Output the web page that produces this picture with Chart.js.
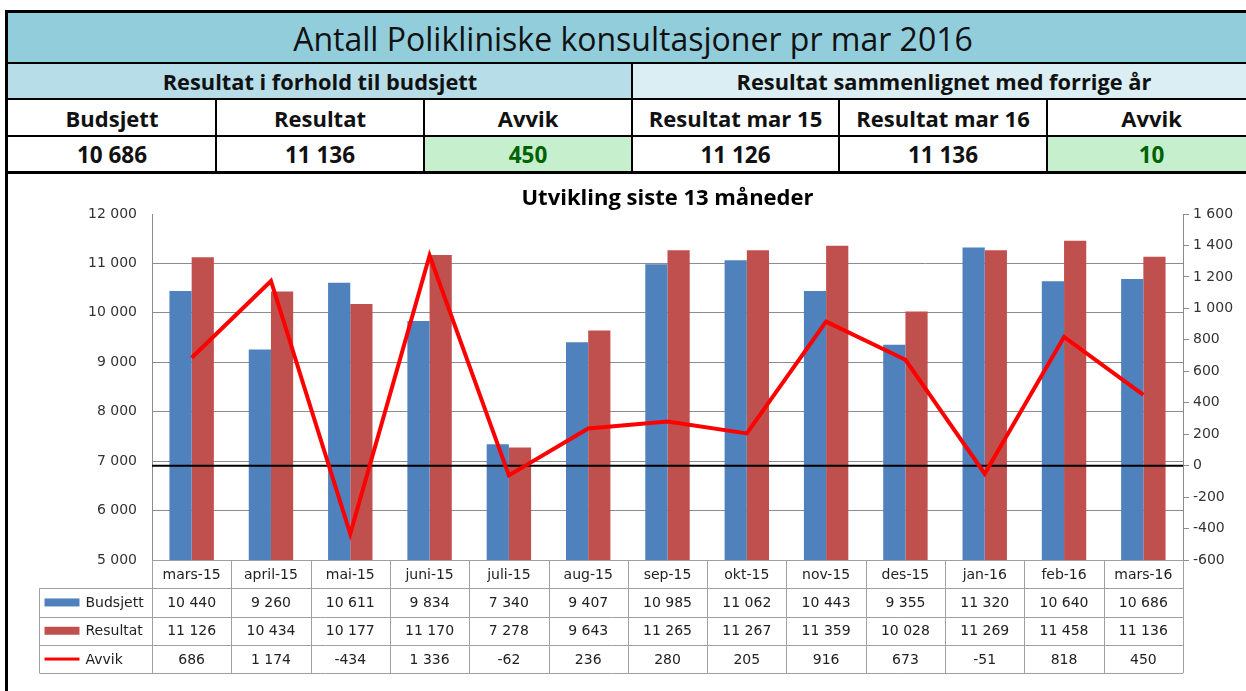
<!DOCTYPE html>
<html>
<head>
<meta charset="utf-8">
<script src="https://cdn.jsdelivr.net/npm/chart.js@4.4.0/dist/chart.umd.min.js"></script>
<style>
  body { margin: 0; width: 1246px; height: 691px; overflow: hidden; background: #fff; font-family: "Open Sans", sans-serif; }
  .c { position: absolute; box-sizing: border-box; display: flex; align-items: center; justify-content: center; color: #111; white-space: nowrap; }
  .ln { position: absolute; background: #000; }
  #wrap { position: absolute; left: 8px; top: 174px; width: 1238px; height: 517px; }
</style>
</head>
<body>
<div id="head"></div>
<div id="wrap"><canvas id="chart" width="1238" height="517"></canvas></div>
<script>
const months = ['mars-15', 'april-15', 'mai-15', 'juni-15', 'juli-15', 'aug-15', 'sep-15', 'okt-15', 'nov-15', 'des-15', 'jan-16', 'feb-16', 'mars-16'];
const budsjett = [10440, 9260, 10611, 9834, 7340, 9407, 10985, 11062, 10443, 9355, 11320, 10640, 10686];
const resultat = [11126, 10434, 10177, 11170, 7278, 9643, 11265, 11267, 11359, 10028, 11269, 11458, 11136];
const avvik = [686, 1174, -434, 1336, -62, 236, 280, 205, 916, 673, -51, 818, 450];

const fmt = v => String(v).replace(/\B(?=(\d{3})+(?!\d))/g, ' ');

// header table
const last = months.length - 1;
const head = document.getElementById('head');
function cell(x, y, w, h, txt, css) {
  const d = document.createElement('div');
  d.className = 'c';
  d.style.cssText = `left:${x}px;top:${y}px;width:${w}px;height:${h}px;` + (css || '');
  d.textContent = txt;
  head.appendChild(d);
}
function line(x, y, w, h) {
  const d = document.createElement('div');
  d.className = 'ln';
  d.style.cssText = `left:${x}px;top:${y}px;width:${w}px;height:${h}px;`;
  head.appendChild(d);
}
const cols = [8, 216, 424, 632, 839, 1047, 1256];
cell(8, 13, 1250, 50, 'Antall Polikliniske konsultasjoner pr mar 2016', 'background:#92CDDC;font-size:32px;');
cell(8, 63, 624, 36, 'Resultat i forhold til budsjett', 'background:#B7DEE8;font-size:21.8px;font-weight:bold;');
cell(632, 63, 624, 36, 'Resultat sammenlignet med forrige år', 'background:#DAEEF3;font-size:21.8px;font-weight:bold;');
const hdr = ['Budsjett', 'Resultat', 'Avvik', 'Resultat mar 15', 'Resultat mar 16', 'Avvik'];
const vals = [budsjett[last], resultat[last], resultat[last] - budsjett[last], resultat[0], resultat[last], resultat[last] - resultat[0]];
hdr.forEach((t, i) => {
  cell(cols[i], 99, cols[i + 1] - cols[i], 37, t, 'font-size:22px;font-weight:bold;');
  const green = (i === 2 || i === 5);
  cell(cols[i], 136, cols[i + 1] - cols[i], 36, fmt(vals[i]),
    'font-size:22.5px;font-weight:bold;' + (green ? 'background:#C6EFCE;color:#006100;' : ''));
});
line(5, 10, 1250, 3);
line(5, 10, 3, 700);
line(5, 62, 1250, 2);
line(5, 98, 1250, 2);
line(5, 135, 1250, 2);
line(5, 171, 1250, 3);
line(631, 62, 2, 110);
[1, 2, 4, 5].forEach(i => line(cols[i] - 1, 98, 2, 74));

// data table under the chart
const tablePlugin = {
  id: 'dataTable',
  beforeDatasetDraw(chart, args) {
    if (args.index !== 2) return;
    const { ctx, chartArea } = chart;
    const y = chart.scales.y1.getPixelForValue(0);
    ctx.save();
    ctx.strokeStyle = '#000';
    ctx.lineWidth = 2;
    ctx.beginPath();
    ctx.moveTo(chartArea.left, y);
    ctx.lineTo(chartArea.right, y);
    ctx.stroke();
    ctx.restore();
  },
  afterDraw(chart) {
    const { ctx, chartArea } = chart;
    const xs = chart.scales.x;
    const w = (chartArea.right - chartArea.left) / months.length;
    const top = chartArea.bottom;
    const rh = 28.3;
    const legLeft = 31.5;
    ctx.save();
    ctx.strokeStyle = '#A0A0A0';
    ctx.lineWidth = 1;
    ctx.beginPath();
    for (let k = 0; k <= 4; k++) {
      const y = Math.round(top + k * rh) + 0.5;
      ctx.moveTo(k === 0 ? chartArea.left : legLeft, y);
      ctx.lineTo(chartArea.right, y);
    }
    for (let i = 0; i <= months.length; i++) {
      const x = Math.round(chartArea.left + i * w) + 0.5;
      ctx.moveTo(x, top);
      ctx.lineTo(x, top + 4 * rh);
    }
    ctx.moveTo(legLeft, top + rh);
    ctx.lineTo(legLeft, top + 4 * rh);
    ctx.stroke();

    ctx.font = '14px "DejaVu Sans"';
    ctx.fillStyle = '#222';
    ctx.textAlign = 'center';
    ctx.textBaseline = 'middle';
    const rows = [months, budsjett.map(fmt), resultat.map(fmt), avvik.map(fmt)];
    rows.forEach((r, k) => {
      r.forEach((t, i) => {
        ctx.fillText(t, xs.getPixelForValue(i), top + k * rh + rh / 2 + 1);
      });
    });
    const names = ['Budsjett', 'Resultat', 'Avvik'];
    const colors = ['#4F81BD', '#C0504D', '#FF0000'];
    ctx.textAlign = 'left';
    names.forEach((n, k) => {
      const cy = top + (k + 1) * rh + rh / 2;
      ctx.fillStyle = colors[k];
      if (k < 2) ctx.fillRect(legLeft + 5, cy - 4, 35, 8);
      else ctx.fillRect(legLeft + 5, cy - 1.5, 35, 3);
      ctx.fillStyle = '#222';
      ctx.fillText(n, legLeft + 46, cy + 1);
    });
    ctx.restore();
  }
};

const tickFont = { family: 'DejaVu Sans', size: 14 };

new Chart(document.getElementById('chart'), {
  type: 'bar',
  data: {
    labels: months,
    datasets: [
      { label: 'Budsjett', data: budsjett, backgroundColor: '#4F81BD', yAxisID: 'y', order: 1 },
      { label: 'Resultat', data: resultat, backgroundColor: '#C0504D', yAxisID: 'y', order: 1 },
      { label: 'Avvik', type: 'line', data: avvik, borderColor: '#FF0000', borderWidth: 4,
        pointRadius: 0, tension: 0, yAxisID: 'y1', order: 0 }
    ]
  },
  plugins: [tablePlugin],
  options: {
    responsive: false,
    animation: false,
    devicePixelRatio: 1,
    datasets: { bar: { categoryPercentage: 0.56, barPercentage: 1 } },
    layout: { padding: 0 },
    plugins: {
      legend: { display: false },
      tooltip: { enabled: false },
      title: {
        display: true,
        fullSize: false,
        text: 'Utvikling siste 13 måneder',
        color: '#000',
        font: { family: 'Open Sans', size: 22, weight: 'bold' },
        padding: { top: 12, bottom: 1.6 }
      }
    },
    scales: {
      x: {
        ticks: { display: false },
        grid: { display: false },
        border: { display: false },
        afterFit: s => { s.height = 131; }
      },
      y: {
        position: 'left',
        min: 5000, max: 12000,
        ticks: { stepSize: 1000, font: tickFont, color: '#333', padding: 15, callback: v => fmt(v) },
        grid: { color: c => c.tick.value === 12000 ? 'rgba(0,0,0,0)' : '#8C8C8C', drawTicks: false },
        border: { display: true, color: '#8C8C8C' },
        afterFit: s => { s.width = 144; }
      },
      y1: {
        position: 'right',
        min: -600, max: 1600,
        ticks: { stepSize: 200, font: tickFont, color: '#333', padding: 4, callback: v => fmt(v) },
        grid: { drawOnChartArea: false, tickLength: 6, tickColor: '#8C8C8C' },
        border: { display: true, color: '#8C8C8C' },
        afterFit: s => { s.width = 63; }
      }
    }
  }
});
</script>
</body>
</html>
